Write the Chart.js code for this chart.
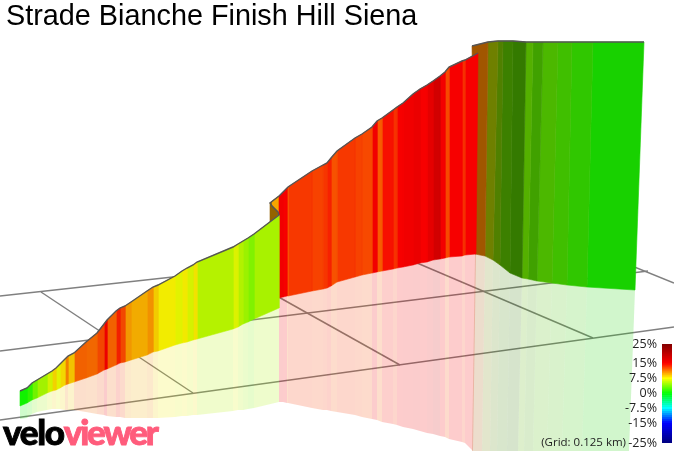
<!DOCTYPE html>
<html>
<head>
<meta charset="utf-8">
<title>Strade Bianche Finish Hill Siena</title>
<script src="https://cdn.jsdelivr.net/npm/chart.js@4"></script>
<style>
	html, body { margin: 0; padding: 0; background: #fff; overflow: hidden; }
	#wrap { position: relative; width: 674px; height: 451px; }
	#profile { position: absolute; left: 0; top: 0; }
	#scale { position: absolute; left: 600px; top: 334px; }
	#grid-note { position: absolute; right: 48px; top: 434px; font: 11.5px "Open Sans", sans-serif; color: #222; white-space: nowrap; }
	#logo { position: absolute; left: 3px; top: 411px; font: 900 35px/40px Lato, sans-serif; letter-spacing: -1.3px; color: #000; white-space: nowrap; -webkit-text-stroke: 0.9px #000; }
	#logo span { color: #ff5c7c; letter-spacing: -2.2px; -webkit-text-stroke: 0.9px #ff5c7c; }
</style>
</head>
<body>
<div id="wrap">
	<canvas id="profile" width="674" height="451"></canvas>
	<canvas id="scale" width="74" height="119"></canvas>
	<div id="grid-note">(Grid: 0.125 km)</div>
	<div id="logo">velo<span>viewer</span></div>
</div>
<script>
// Section before the hairpin
const leftTopX = [20,27,32,37,47,52,56,60,65,68,74,86,97,104,107,116,120,125,131,147,153,158,175,182,187,193,197,233,238,243,248,254,279];
const leftTopY = [391,388,383,380,374,371,368,364,359,356,353,342,333,324,320,311,308,306,302,291,287,285,276,271,268,265,262,247,244,241,238,234,215];
const leftFootY = [406,403,400,398,393,391,390,388,385,384,382,378,374,370,369,365,363,362,360,355,352,351,345,343,342,340,339,329,327,324,322,319,308];
const leftEdgeY = [419,418,414,412,410,409,409,409,410,410,410,412,414,415,416,417,417,418,418,418,418,418,417,416,416,415,415,411,410,410,409,408,402];
const leftGrades = [0.5,1.5,3.5,5,6.5,8.5,7,8.3,11,9,12,11.8,12.8,15.5,12,14,12.8,10.3,9.7,10.5,8.7,7.7,7,7.8,6.6,8,5.6,6.8,5.5,4.8,4,5.2];
const leftShades = [0.95];

// The steep red section
const midTopX = [279,283,287,288,312,323,327,331,337,355,362,372,377,382,393,397,403,413,420,427,433,440,445,449,462,465,478];
const midTopY = [196,192,188,187,171,165,163,158,151,138,134,127,121,118,110,107,103,94,89,85,81,76,72,67,61,60,53];
const midFootX = [279,283,287,288,312,323,327,331,337,355,362,372,377,382,393,397,403,413,420,427,433,440,445,449,462,465,476];
const midFootY = [298,297,296,296,291,289,288,286,282,277,275,273,272,271,269,268,267,265,263,262,260,259,258,257,256,255,254];
const midEdgeX = [279,283,287,288,312,323,327,331,337,355,362,372,377,382,393,397,403,413,420,427,433,440,445,449,462,465,473];
const midEdgeY = [402,402,403,403,408,410,410,411,412,415,417,419,420,422,424,425,427,429,431,433,434,436,437,439,442,443,451];
const midGrades = [15.5,15,12,13.3,13,13.4,14,12.5,13.3,13,12.8,15.5,12.2,14.5,13.5,15,15.5,16,15,16.5,18,15.3,12.8,15,13.5,15];
const midShades = [0.97];

// Flat section at the top, turned away from the light
const rearTopX = [472,488,498,503,513,526,533,543,558,572,593,644];
const rearTopY = [46,42,41,41,41,42,42,42,42,42,42,42];
const rearFootX = [475,485,493,500,510,522,528,537,552,567,587,635];
const rearFootY = [254,256,260,265,273,278,279,281,283,285,287,290];
const rearEdgeX = [472,482,490,497,507,518,524,533,547,562,582,629];
const rearEdgeY = [451,451,451,451,451,451,451,451,451,451,451,451];
const rearGrades = [11,6.5,4.7,3.5,3.2,3.6,3,3.1,2.5,1.8,0.86];
const rearShades = [0.63,0.5,0.5,0.5,0.48,0.69,0.63,0.72,0.75,0.78,0.82];

// Little hairpin between the two lower sections
const hairpinX = [270,279,279,270];
const hairpinY = [203,196,216,222];
const hairpinFrontX = [272,279,279,278,275,272];
const hairpinFrontY = [201,196,214,212,208,205];
const ridgeTurnX = [279,278,275,272,270,279];
const ridgeTurnY = [215,212,209,206,203,196];

// Ground grid
const gridLines = [
	{ x: [0, 400], y: [296, 252] },
	{ x: [0, 648], y: [351, 271] },
	{ x: [0, 674], y: [420, 327] },
	{ x: [41, 193], y: [292, 393] },
	{ x: [250, 400], y: [281, 365] },
	{ x: [410, 593], y: [260, 338] },
	{ x: [600, 674], y: [253, 283] }
];

// Colour scale
const scaleTicks = [25, 15, 7.5, 0, -7.5, -15, -25];
const scaleSteps = [-25,-24,-23,-22,-21,-20,-19,-18,-17,-16,-15,-14,-13,-12,-11,-10,-9,-8,-7,-6,-5,-4,-3,-2,-1,0,1,2,3,4,5,6,7,8,9,10,11,12,13,14,15,16,17,18,19,20,21,22,23,24];
const rampStops = [
	[-25, 0, 0, 128], [-15, 0, 0, 255], [-7.5, 0, 255, 255], [0, 0, 255, 0],
	[7.5, 255, 255, 0], [15, 255, 0, 0], [25, 128, 0, 0]
];

function gradeRgb(grade, shade) {
	let i = 0;
	while (i < rampStops.length - 2 && grade > rampStops[i + 1][0]) i++;
	const a = rampStops[i], b = rampStops[i + 1];
	const t = (grade - a[0]) / (b[0] - a[0]);
	return [1, 2, 3].map(c => Math.round((a[c] + (b[c] - a[c]) * t) * shade)).join(',');
}

function polygon(xs, ys, colour, order, border) {
	const points = xs.map((x, i) => ({ x: x, y: ys[i] }));
	points.push(points[0]);
	return {
		data: points,
		showLine: true,
		fill: 'shape',
		backgroundColor: colour,
		borderColor: colour,
		borderWidth: border,
		pointRadius: 0,
		tension: 0,
		order: order
	};
}

function polyline(xs, ys, colour, width, order) {
	return {
		data: xs.map((x, i) => ({ x: x, y: ys[i] })),
		showLine: true,
		fill: false,
		borderColor: colour,
		borderWidth: width,
		pointRadius: 0,
		tension: 0,
		clip: false,
		order: order
	};
}

// Wall strips and their pale reflection on the ground
function ribbon(topX, topY, footX, footY, edgeX, edgeY, grades, shades, order) {
	const sets = [];
	grades.forEach((grade, i) => {
		const rgb = gradeRgb(grade, shades[i] ?? shades[0]);
		sets.push(polygon(
			[edgeX[i], edgeX[i + 1], footX[i + 1], footX[i]],
			[edgeY[i], edgeY[i + 1], footY[i + 1], footY[i]],
			'rgba(' + rgb + ',0.2)', 80, 0
		));
		sets.push(polygon(
			[topX[i], topX[i + 1], footX[i + 1], footX[i]],
			[topY[i], topY[i + 1], footY[i + 1], footY[i]],
			'rgb(' + rgb + ')', order, 0.6
		));
	});
	return sets;
}

const datasets = [];
gridLines.forEach(g => datasets.push(polyline(g.x, g.y, '#808080', 1.5, 90)));
datasets.push(...ribbon(rearTopX, rearTopY, rearFootX, rearFootY, rearEdgeX, rearEdgeY, rearGrades, rearShades, 50));
datasets.push(polyline(rearTopX, rearTopY, '#555', 1.4, 45));
datasets.push(polygon(hairpinX, hairpinY, 'rgb(' + gradeRgb(10, 0.58) + ')', 44, 0.6));
datasets.push(polygon(hairpinFrontX, hairpinFrontY, 'rgb(' + gradeRgb(10, 0.97) + ')', 43, 0.4));
datasets.push(...ribbon(midTopX, midTopY, midFootX, midFootY, midEdgeX, midEdgeY, midGrades, midShades, 40));
datasets.push(...ribbon(leftTopX, leftTopY, leftTopX, leftFootY, leftTopX, leftEdgeY, leftGrades, leftShades, 30));
datasets.push(polyline(leftTopX.concat(ridgeTurnX, midTopX), leftTopY.concat(ridgeTurnY, midTopY), '#555', 1.4, 20));

new Chart(document.getElementById('profile'), {
	type: 'scatter',
	data: { datasets: datasets },
	options: {
		responsive: false,
		animation: false,
		layout: { padding: { left: 6 } },
		plugins: {
			legend: { display: false },
			tooltip: { enabled: false },
			title: {
				display: true,
				text: 'Strade Bianche Finish Hill Siena',
				align: 'start',
				color: '#000',
				font: { family: '"Liberation Sans", Arial, sans-serif', size: 28.8, weight: 'normal', lineHeight: 1.2 },
				padding: { top: 0, bottom: 0.44 }
			}
		},
		scales: {
			x: { type: 'linear', display: false, min: 6, max: 674 },
			y: { type: 'linear', display: false, reverse: true, min: 35, max: 451 }
		}
	}
});

new Chart(document.getElementById('scale'), {
	type: 'bar',
	data: {
		labels: [''],
		datasets: scaleSteps.map(g => ({
			data: [[g, g + 1]],
			backgroundColor: 'rgb(' + gradeRgb(g + 0.5, 1) + ')',
			borderWidth: 0,
			borderSkipped: false,
			grouped: false,
			barPercentage: 1,
			categoryPercentage: 1
		}))
	},
	options: {
		responsive: false,
		animation: false,
		layout: { padding: { top: 10, bottom: 10, right: 2 } },
		plugins: { legend: { display: false }, tooltip: { enabled: false }, title: { display: false } },
		scales: {
			x: { display: false },
			y: {
				min: -25,
				max: 25,
				afterFit: function(scale) {
					scale.width = 62;
					scale.paddingTop = 0;
					scale.paddingBottom = 0;
				},
				afterBuildTicks: function(scale) { scale.ticks = scaleTicks.map(v => ({ value: v })); },
				grid: { display: false, drawTicks: false },
				border: { display: false },
				ticks: {
					autoSkip: false,
					padding: 5,
					color: '#222',
					font: { family: '"Open Sans", sans-serif', size: 12.5 },
					callback: function(value) { return value + '%'; }
				}
			}
		}
	}
});
</script>
</body>
</html>
